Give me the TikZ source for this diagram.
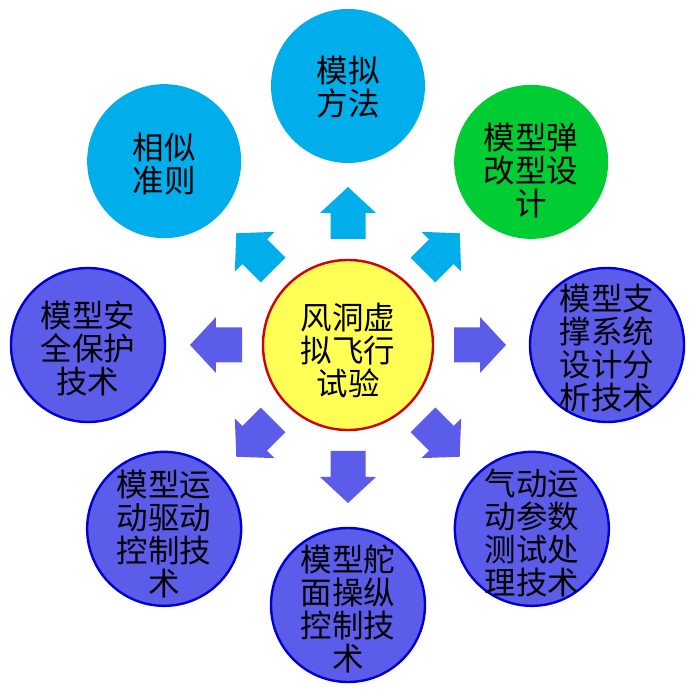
\documentclass[tikz,border=0pt]{standalone}
\usepackage{fontspec}
\newfontfamily\cjk{Noto Sans CJK SC}
\definecolor{cyanc}{RGB}{0,174,236}
\definecolor{greenc}{RGB}{0,204,51}
\definecolor{bluec}{RGB}{92,92,235}
\definecolor{blueline}{RGB}{0,0,210}
\definecolor{yellowc}{RGB}{255,255,85}
\definecolor{redline}{RGB}{210,0,0}
\tikzset{
  bubble/.style={circle, minimum size=154pt, inner sep=0pt},
  cyanbub/.style={bubble, fill=cyanc},
  greenbub/.style={bubble, fill=greenc},
  bluebub/.style={bubble, fill=bluec, draw=blueline, line width=2.4pt},
  centerbub/.style={circle, minimum size=170pt, inner sep=0pt, fill=yellowc, draw=redline, line width=2.4pt},
  txt/.style={align=center, inner sep=0pt, font=\cjk\fontsize{31.5}{33}\selectfont, text=black},
}
\begin{document}
\begin{tikzpicture}[x=1pt, y=1pt]
\useasboundingbox[fill=white] (-348,-355) rectangle (352,345);

% arrows
\foreach \a/\col in {90/cyanc, 135/cyanc, 45/cyanc, 0/bluec, 180/bluec, 225/bluec, 270/bluec, 315/bluec}{
  \fill[\col, rotate=\a] (106,17.5) -- (132,17.5) -- (132,28) -- (158,0) -- (132,-28) -- (132,-17.5) -- (106,-17.5) -- cycle;
}

% center
\node[centerbub] (center) at (0,0) {};
\node[txt] (tcenter) at ([yshift=-5pt]center.center) {风洞虚\\拟飞行\\试验};

% outer circles
\node[cyanbub] (top) at (90:259) {};
\node[txt] (ttop) at ([yshift=-1pt]top.center) {模拟\\方法};

\node[cyanbub] (tl) at (135:260) {};
\node[txt] (ttl) at ([yshift=-3pt]tl.center) {相似\\准则};

\node[greenbub] (tr) at (45:259) {};
\node[txt] (ttr) at ([yshift=-9pt]tr.center) {模型弹\\改型设\\计};

\node[bluebub] (r) at (0:259) {};
\node[txt] (tr2) at ([yshift=-3pt]r.center) {模型支\\撑系统\\设计分\\析技术};

\node[bluebub] (l) at (180:260) {};
\node[txt] (tl2) at ([yshift=-4pt]l.center) {模型安\\全保护\\技术};

\node[bluebub] (bl) at (225:260) {};
\node[txt] (tbl) at ([yshift=-5pt]bl.center) {模型运\\动驱动\\控制技\\术};

\node[bluebub] (b) at (270:260) {};
\node[txt] (tb) at ([yshift=-4pt]b.center) {模型舵\\面操纵\\控制技\\术};

\node[bluebub] (br) at (315:260) {};
\node[txt] (tbr) at ([yshift=-4pt]br.center) {气动运\\动参数\\测试处\\理技术};
\end{tikzpicture}
\end{document}
